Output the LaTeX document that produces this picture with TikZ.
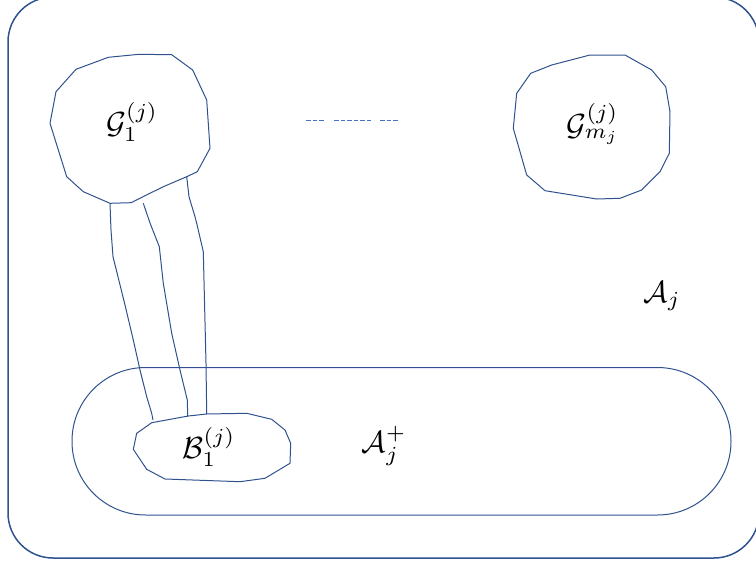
\documentclass[tikz,border=0pt]{standalone}
\usepackage{amsmath}
\definecolor{linecol}{HTML}{2F528F}
\definecolor{dashcol}{HTML}{4472C4}
\begin{document}
\begin{tikzpicture}[x=1pt,y=-1pt,
  edge/.style={draw=linecol,line width=1pt,line join=round},
  lbl/.style={inner sep=0pt}]
\useasboundingbox (0,0) rectangle (756,565);
% outer set A_j
\draw[edge,line width=1.5pt,rounded corners=45pt] (8,-3) rectangle (759,558);
% stadium A_j^+
\draw[edge,rounded corners=73.5pt] (72,367.5) rectangle (731,515);
% G_1 blob
\draw[edge] (108.3,57.3) -- (139,54.3) -- (171.7,54.7) -- (192.7,70) -- (206.7,100)
  -- (210,148.3) -- (197.3,171.7) -- (186.7,176.7) -- (163.3,186.7) -- (131,202.7)
  -- (110,203.3) -- (83.3,191.7) -- (66.7,176.7) -- (50,123.3) -- (56,91.7)
  -- (76,69.3) -- cycle;
% G_m blob
\draw[edge] (530.7,73.3) -- (551.7,65) -- (590,55) -- (625,55) -- (651.7,70)
  -- (665.7,86.7) -- (670,111.7) -- (669.3,153.3) -- (660,171.7) -- (641.7,190)
  -- (620,198.3) -- (596.7,199) -- (545,190.7) -- (526.7,175) -- (513.3,128.3)
  -- (516.7,93.3) -- cycle;
% B_1 blob
\draw[edge] (151.7,422.7) -- (188.3,416) -- (206.7,414) -- (246.7,413.3) -- (271.7,419.3)
  -- (285,430) -- (290.7,443.3) -- (290,463.3) -- (265,478.3) -- (240,481.7)
  -- (165,479) -- (146.7,469.3) -- (133.3,449.3) -- (136.7,433.3) -- cycle;
% tube
\draw[edge] (110,203.3) -- (111,230) -- (113,256.7) -- (125,305) -- (133.3,340)
  -- (140,370) -- (146.7,396.7) -- (151.7,413.3) -- (153,420);
\draw[edge] (143.3,203.3) -- (150,223) -- (159.3,246.7) -- (163.3,283.3)
  -- (171.7,333.3) -- (180,370) -- (187.3,400) -- (187.7,416.5);
\draw[edge] (186.7,176.7) -- (189,196.7) -- (195,216.7) -- (196.7,223.3)
  -- (203.3,251.7) -- (206,363.3) -- (206.7,414);
% dashes
\draw[dashcol,line width=0.8pt,dash pattern=on 4.5pt off 2pt] (306,120.7) -- (324.3,120.7);
\draw[dashcol,line width=0.8pt,dash pattern=on 4.5pt off 2pt] (334.3,120.7) -- (370.7,120.7);
\draw[dashcol,line width=0.8pt,dash pattern=on 4.5pt off 2pt] (380,120.7) -- (398.3,120.7);
% labels
\node[lbl] (g1) at (132,122) {\scalebox{3.05}{$\mathcal{G}_1^{(j)}$}};
\node[lbl] (gm) at (593,124) {\scalebox{3.05}{$\mathcal{G}_{m_j}^{(j)}$}};
\node[lbl] (b1) at (209,447) {\scalebox{3.05}{$\mathcal{B}_1^{(j)}$}};
\node[lbl] (ap) at (384,446) {\scalebox{3.05}{$\mathcal{A}_j^{+}$}};
\node[lbl] (aj) at (662,296) {\scalebox{3.05}{$\mathcal{A}_j$}};
\end{tikzpicture}
\end{document}
